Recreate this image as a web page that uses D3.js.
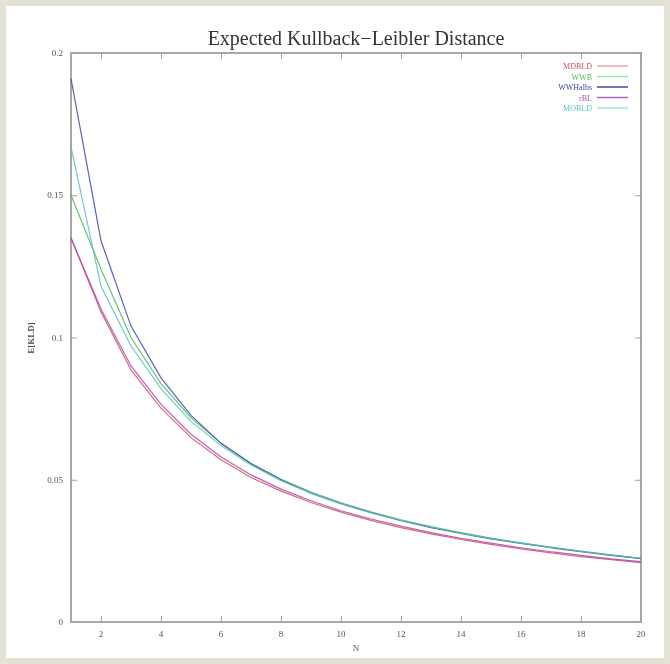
<!DOCTYPE html>
<html>
<head>
<meta charset="utf-8">
<script src="https://cdn.jsdelivr.net/npm/d3@7"></script>
<style>
  body { margin: 0; background: #e4e2d2; }
  svg { display: block; }
</style>
</head>
<body>
<div id="chart"></div>
<script>
// values, N = 1..20
var nValues = d3.range(1, 21);
var mdbld   = [0.135, 0.109, 0.0886, 0.0752, 0.0648, 0.0570, 0.0508, 0.0460, 0.0420, 0.0386, 0.0357, 0.0332, 0.0310, 0.0290, 0.0273, 0.0257, 0.0243, 0.0230, 0.0219, 0.0209];
var wwb     = [0.150, 0.124, 0.100, 0.0838, 0.0718, 0.0628, 0.0558, 0.0502, 0.0457, 0.0419, 0.0387, 0.0359, 0.0335, 0.0314, 0.0295, 0.0278, 0.0263, 0.0249, 0.0236, 0.0224];
var wwhalbs = [0.191, 0.134, 0.104, 0.0858, 0.0726, 0.0628, 0.0556, 0.0500, 0.0453, 0.0416, 0.0384, 0.0356, 0.0332, 0.0311, 0.0292, 0.0276, 0.0261, 0.0247, 0.0234, 0.0223];
var rbl     = [0.135, 0.110, 0.0900, 0.0765, 0.0660, 0.0580, 0.0517, 0.0467, 0.0426, 0.0391, 0.0362, 0.0337, 0.0314, 0.0294, 0.0277, 0.0261, 0.0247, 0.0234, 0.0222, 0.0212];
var mobld   = [0.167, 0.118, 0.097, 0.082, 0.0705, 0.0620, 0.0552, 0.0497, 0.0453, 0.0416, 0.0384, 0.0357, 0.0333, 0.0312, 0.0293, 0.0277, 0.0262, 0.0248, 0.0235, 0.0224];

var seriesNames = ["MDBLD", "WWB", "WWHalbs", "rBL", "MOBLD"];
var seriesValues = [mdbld, wwb, wwhalbs, rbl, mobld];
var seriesColors = ["#d0505a", "#4cb85c", "#4048a8", "#a848b8", "#58c0c0"];
var legendLineColors = ["#e8a8a8", "#a8dca8", "#4048a8", "#b060c0", "#a8e0e0"];

var xTicks = [2, 4, 6, 8, 10, 12, 14, 16, 18, 20];
var yTicks = [0, 0.05, 0.1, 0.15, 0.2];
var yTickLabels = ["0", "0.05", "0.1", "0.15", "0.2"];

var width = 670, height = 664;

var svg = d3.select("#chart")
  .append("svg")
    .attr("width", width)
    .attr("height", height);

// white sheet on the paper texture
svg.append("rect")
  .attr("x", 6)
  .attr("y", 6)
  .attr("width", 658)
  .attr("height", 652)
  .attr("fill", "#ffffff");

var x = d3.scaleLinear().domain([1, 20]).range([71, 641]);
var y = d3.scaleLinear().domain([0, 0.2]).range([622, 53]);

var g = svg.append("g").style("filter", "blur(0.45px)");

// plot frame
g.append("rect")
  .attr("x", x(1))
  .attr("y", y(0.2))
  .attr("width", x(20) - x(1))
  .attr("height", y(0) - y(0.2))
  .attr("fill", "none")
  .attr("stroke", "#a8a8a8")
  .attr("stroke-width", 2);

// inward ticks on all four sides
g.append("g")
  .attr("transform", "translate(0," + y(0) + ")")
  .call(d3.axisTop(x).tickValues(xTicks).tickSize(6).tickFormat(""))
  .call(function(a) { a.select(".domain").remove(); });
g.append("g")
  .attr("transform", "translate(0," + y(0.2) + ")")
  .call(d3.axisBottom(x).tickValues(xTicks).tickSize(6).tickFormat(""))
  .call(function(a) { a.select(".domain").remove(); });
g.append("g")
  .attr("transform", "translate(" + x(1) + ",0)")
  .call(d3.axisRight(y).tickValues(yTicks).tickSize(6).tickFormat(""))
  .call(function(a) { a.select(".domain").remove(); });
g.append("g")
  .attr("transform", "translate(" + x(20) + ",0)")
  .call(d3.axisLeft(y).tickValues(yTicks).tickSize(6).tickFormat(""))
  .call(function(a) { a.select(".domain").remove(); });
g.selectAll(".tick line").attr("stroke", "#a0a0a0");

// tick labels
g.selectAll(".xlab")
  .data(xTicks)
  .enter().append("text")
    .attr("x", function(d) { return x(d); })
    .attr("y", 637)
    .attr("text-anchor", "middle")
    .attr("font-family", "Liberation Serif, serif")
    .attr("font-size", 9)
    .attr("fill", "#555")
    .text(function(d) { return d; });

g.selectAll(".ylab")
  .data(yTicks)
  .enter().append("text")
    .attr("x", 63)
    .attr("y", function(d) { return y(d) + 3; })
    .attr("text-anchor", "end")
    .attr("font-family", "Liberation Serif, serif")
    .attr("font-size", 9)
    .attr("fill", "#555")
    .text(function(d, i) { return yTickLabels[i]; });

// title and axis labels
g.append("text")
  .attr("x", 356)
  .attr("y", 45)
  .attr("text-anchor", "middle")
  .attr("font-family", "Liberation Serif, serif")
  .attr("font-size", 20)
  .attr("fill", "#333")
  .text("Expected Kullback\u2212Leibler Distance");

g.append("text")
  .attr("x", 356)
  .attr("y", 651)
  .attr("text-anchor", "middle")
  .attr("font-family", "Liberation Serif, serif")
  .attr("font-size", 9)
  .attr("fill", "#555")
  .text("N");

g.append("text")
  .attr("transform", "translate(34,338) rotate(-90)")
  .attr("text-anchor", "middle")
  .attr("font-family", "Liberation Serif, serif")
  .attr("font-size", 9)
  .attr("font-weight", "bold")
  .attr("fill", "#555")
  .text("E[KLD]");

// curves
var line = d3.line()
  .x(function(d, i) { return x(nValues[i]); })
  .y(function(d) { return y(d); });

g.selectAll(".curve")
  .data(seriesValues)
  .enter().append("path")
    .attr("d", line)
    .attr("fill", "none")
    .attr("stroke", function(d, i) { return seriesColors[i]; })
    .attr("stroke-width", 1.2)
    .attr("stroke-opacity", 0.85);

// legend
var legend = g.selectAll(".legend")
  .data(seriesNames)
  .enter().append("g")
    .attr("transform", function(d, i) { return "translate(0," + (66 + i * 10.5) + ")"; });

legend.append("text")
  .attr("x", 592)
  .attr("y", 3)
  .attr("text-anchor", "end")
  .attr("font-family", "Liberation Serif, serif")
  .attr("font-size", 8)
  .attr("fill", function(d, i) { return seriesColors[i]; })
  .text(function(d) { return d; });

legend.append("line")
  .attr("x1", 597)
  .attr("x2", 628)
  .attr("stroke", function(d, i) { return legendLineColors[i]; })
  .attr("stroke-width", 1.5);
</script>
</body>
</html>
